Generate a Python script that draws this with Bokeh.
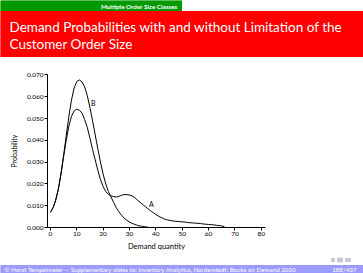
from bokeh.plotting import figure
from bokeh.layouts import column
from bokeh.models import Range1d, FixedTicker, NumeralTickFormatter
from bokeh.core.properties import value
from bokeh.embed import file_html
from bokeh.resources import INLINE

# ---------------- data ----------------
qty_b = list(range(0, 38))
prob_b = [0.0070, 0.0090, 0.0125, 0.0175, 0.0245, 0.0330, 0.0420, 0.0510, 0.0585, 0.0640,
          0.0670, 0.0677, 0.0668, 0.0645, 0.0605, 0.0550, 0.0490, 0.0425, 0.0360, 0.0300,
          0.0245, 0.0200, 0.0165, 0.0140, 0.0115, 0.0090, 0.0072, 0.0056, 0.0043, 0.0033,
          0.0025, 0.0019, 0.0014, 0.0010, 0.0007, 0.0005, 0.0003, 0.0002]
qty_a = list(range(0, 67))
prob_a = [0.0070, 0.0090, 0.0125, 0.0175, 0.0245, 0.0325, 0.0400, 0.0465, 0.0510, 0.0535,
          0.0543, 0.0538, 0.0525, 0.0495, 0.0459, 0.0410, 0.0358, 0.0310, 0.0262, 0.0220,
          0.0188, 0.0165, 0.0152, 0.0145, 0.0142, 0.0140, 0.0143, 0.0148, 0.0151, 0.0151,
          0.0149, 0.0145, 0.0137, 0.0126, 0.0116, 0.0106, 0.0096, 0.0086, 0.0077, 0.0068,
          0.0060, 0.0052, 0.0046, 0.0040, 0.0036, 0.0033, 0.0031, 0.0029, 0.0028, 0.0027,
          0.0026, 0.0025, 0.0023, 0.0022, 0.0021, 0.0020, 0.0019, 0.0018, 0.0016, 0.0015,
          0.0014, 0.0013, 0.0012, 0.0010, 0.0009, 0.0007, 0.0004]
curve_labels = ["B", "A"]
label_x = [16.3, 38.3]
label_y = [0.0573, 0.0108]
x_ticks = [0, 10, 20, 30, 40, 50, 60, 70, 80]
y_ticks = [0.0, 0.01, 0.02, 0.03, 0.04, 0.05, 0.06, 0.07]

header_text = "Multiple Order Size Classes"
title_lines = ["Demand Probabilities with and without Limitation of the", "Customer Order Size"]
footer_text = "Horst Tempelmeier \u2014 Supplementary slides to: Inventory Analytics, Norderstedt: Books on Demand 2020"
page_text = "188/437"

FONT = "Lato"
W = 363

def deco_fig(h):
    f = figure(width=W, height=h, x_range=Range1d(0, W), y_range=Range1d(h, 0),
               toolbar_location=None, output_backend="svg", min_border=0)
    f.axis.visible = False
    f.grid.visible = False
    f.outline_line_color = None
    f.frame_align = False
    return f

# ---------------- header ----------------
hdr = deco_fig(57)
hdr.quad(left=[0], right=[181], top=[0], bottom=[11], color="#009900")
hdr.quad(left=[0], right=[W], top=[11], bottom=[57], color="#ff0000")
hdr.text(x=[177], y=[5.8], text=[header_text], text_color="white", text_font=value(FONT),
         text_font_style="bold", text_font_size="6.3px", text_align="right", text_baseline="middle")
hdr.text(x=[9, 9], y=[26.5, 43.5], text=title_lines, text_color="white", text_font=value(FONT),
         text_font_size="13.5px", text_align="left", text_baseline="middle")

# ---------------- main plot ----------------
p = figure(width=W, height=199, x_range=Range1d(-1.1, 81.6), y_range=Range1d(0, 0.0702),
           toolbar_location=None, output_backend="svg",
           min_border_left=47, min_border_right=98, min_border_top=17, min_border_bottom=29)
p.frame_align = False
p.grid.visible = False
p.outline_line_color = None
p.line(qty_b, prob_b, line_color="black", line_width=1)
p.line(qty_a, prob_a, line_color="black", line_width=1)
p.text(x=label_x, y=label_y, text=curve_labels, text_font=value(FONT), text_font_size="7px",
       text_align="center", text_baseline="middle", text_color="black")

p.xaxis.ticker = FixedTicker(ticks=x_ticks)
p.yaxis.ticker = FixedTicker(ticks=y_ticks)
p.yaxis.formatter = NumeralTickFormatter(format="0.000")
for ax in (p.xaxis, p.yaxis):
    ax.major_tick_in = 0
    ax.major_tick_out = 3
    ax.minor_tick_out = 0
    ax.minor_tick_in = 0
    ax.major_label_text_font = FONT
    ax.major_label_text_font_size = "6.5px"
    ax.major_label_text_color = "black"
    ax.axis_label_text_font = FONT
    ax.axis_label_text_font_style = "normal"
    ax.axis_label_text_color = "black"
    ax.axis_line_color = "black"
    ax.major_tick_line_color = "black"
    ax.major_label_standoff = 1
p.xaxis.axis_label = "Demand quantity"
p.xaxis.axis_label_text_font_size = "7.5px"
p.xaxis.axis_label_standoff = 3
p.yaxis.axis_label = "Probability"
p.yaxis.axis_label_text_font_size = "7px"
p.yaxis.axis_label_standoff = 6

# ---------------- footer ----------------
ftr = deco_fig(17)
ftr.quad(left=[0], right=[W], top=[9], bottom=[17], color="#9c9cff")
ftr.quad(left=[331, 337, 345], right=[334, 342, 350], top=[2, 1.5, 2], bottom=[5, 5.5, 5], color="#c8c8d8")
ftr.text(x=[4], y=[13], text=["\u00a9 " + footer_text], text_color="white", text_font=value(FONT),
         text_font_size="6.2px", text_align="left", text_baseline="middle")
ftr.text(x=[356], y=[13], text=[page_text], text_color="white", text_font=value(FONT),
         text_font_size="6.2px", text_align="right", text_baseline="middle")

layout = column(hdr, p, ftr, spacing=0)
open("out.html", "w").write(file_html(layout, INLINE))
